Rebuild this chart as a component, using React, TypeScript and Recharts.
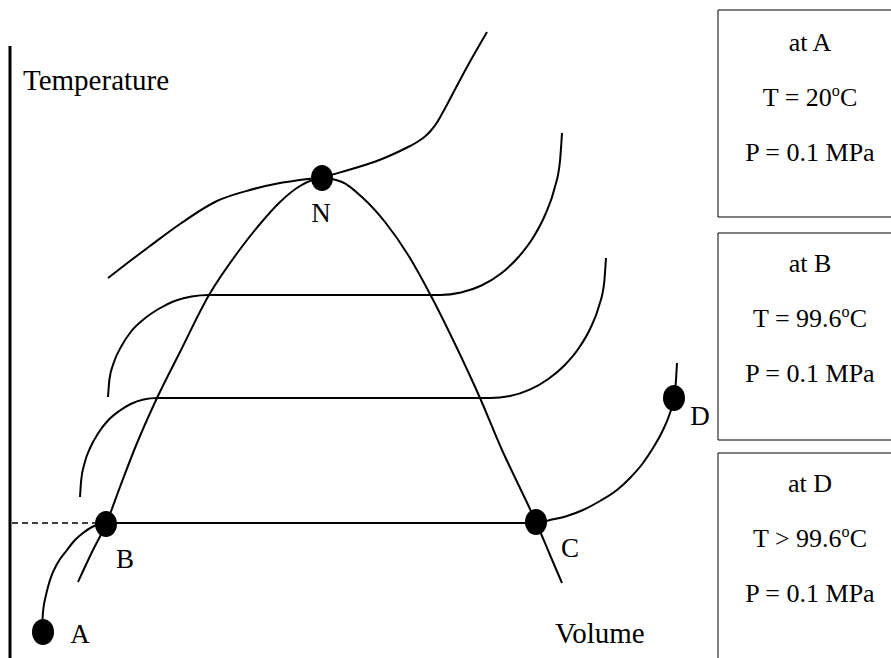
import { ComposedChart, XAxis, YAxis, Line, Scatter, ReferenceLine, ReferenceArea } from "recharts";

// saturation dome (liquid side -> critical point N -> vapour side)
const dome = [
  { x: 78, y: 582 }, { x: 92, y: 552 }, { x: 106, y: 524 }, { x: 120, y: 487 }, { x: 135, y: 448 },
  { x: 157, y: 398 }, { x: 180, y: 352 }, { x: 209, y: 295 }, { x: 238, y: 252 }, { x: 260, y: 224 },
  { x: 280, y: 202 }, { x: 300, y: 186 }, { x: 322, y: 178 }, { x: 342, y: 182 }, { x: 363, y: 198 },
  { x: 385, y: 222 }, { x: 410, y: 258 }, { x: 430, y: 294 }, { x: 455, y: 344 }, { x: 480, y: 398 },
  { x: 502, y: 450 }, { x: 520, y: 488 }, { x: 536, y: 522 }, { x: 550, y: 555 }, { x: 562, y: 583 },
];

// critical isotherm through N
const criticalIsotherm = [
  { x: 108, y: 278 }, { x: 130, y: 261 }, { x: 150, y: 246 }, { x: 180, y: 224 }, { x: 217, y: 201 },
  { x: 250, y: 190 }, { x: 280, y: 183 }, { x: 300, y: 180 }, { x: 322, y: 177 }, { x: 345, y: 171 },
  { x: 365, y: 165 }, { x: 382, y: 159 }, { x: 400, y: 151 }, { x: 410, y: 146 }, { x: 418, y: 141.5 },
  { x: 425, y: 136.5 }, { x: 431, y: 130.5 }, { x: 437, y: 122.5 }, { x: 443, y: 112 }, { x: 450, y: 99 },
  { x: 467, y: 67 }, { x: 487, y: 32 },
];

const upperIsotherm = [
  { x: 108, y: 397 }, { x: 109.5, y: 379 }, { x: 114, y: 362 }, { x: 121.5, y: 346 }, { x: 131.5, y: 331 },
  { x: 144, y: 319 }, { x: 158.5, y: 309 }, { x: 174.5, y: 301 }, { x: 191.5, y: 296.5 }, { x: 209, y: 295 },
  { x: 440, y: 295 }, { x: 461, y: 292.5 }, { x: 481.5, y: 285.5 }, { x: 501, y: 273.5 }, { x: 518.5, y: 257 },
  { x: 533.5, y: 237 }, { x: 545.5, y: 214 }, { x: 554.5, y: 188.5 }, { x: 560, y: 161 }, { x: 562, y: 133 },
];

const lowerIsotherm = [
  { x: 80, y: 497 }, { x: 81.2, y: 480 }, { x: 84.6, y: 463 }, { x: 90.3, y: 447.5 }, { x: 98, y: 433.5 },
  { x: 107.5, y: 421 }, { x: 118.5, y: 411.5 }, { x: 130.7, y: 404 }, { x: 143.6, y: 399.5 }, { x: 157, y: 398 },
  { x: 490, y: 398 }, { x: 510, y: 396 }, { x: 529.7, y: 389.6 }, { x: 548, y: 379.2 }, { x: 564.6, y: 365.2 },
  { x: 578.9, y: 348 }, { x: 590.5, y: 328 }, { x: 599, y: 306 }, { x: 604.2, y: 282.3 }, { x: 606, y: 258 },
];

// A -> B (compressed liquid)
const liquidPath = [
  { x: 42, y: 632 }, { x: 43, y: 612 }, { x: 46, y: 595 }, { x: 50, y: 580 }, { x: 57, y: 564 },
  { x: 67, y: 550 }, { x: 75, y: 540 }, { x: 83, y: 533 }, { x: 92, y: 527 }, { x: 100, y: 524 },
  { x: 106, y: 523 },
];

// B -> C -> D at 0.1 MPa
const boilingPath = [
  { x: 106, y: 523 }, { x: 536, y: 523 }, { x: 550, y: 520 }, { x: 567, y: 516 }, { x: 583, y: 510 },
  { x: 600, y: 501 }, { x: 617, y: 490 }, { x: 630, y: 478 }, { x: 643, y: 463 }, { x: 653, y: 448 },
  { x: 663, y: 430 }, { x: 670, y: 413 }, { x: 674, y: 398 }, { x: 676, y: 380 }, { x: 677, y: 363 },
];

const statePoints = [
  { x: 43, y: 632, name: "A" },
  { x: 106, y: 524, name: "B" },
  { x: 536, y: 522, name: "C" },
  { x: 674, y: 398, name: "D" },
  { x: 322, y: 178, name: "N" },
];

const pointLabels = [
  { x: 80, y: 643, text: "A" },
  { x: 125, y: 568, text: "B" },
  { x: 570, y: 557, text: "C" },
  { x: 700, y: 425, text: "D" },
  { x: 321, y: 222, text: "N" },
];

const axisLabels = [
  { x: 23, y: 90, text: "Temperature" },
  { x: 555, y: 643, text: "Volume" },
];

const noteLines = [
  { x: 810, y: 51, text: "at A" },
  { x: 810, y: 106, text: "T = 20°C" },
  { x: 810, y: 161, text: "P = 0.1 MPa" },
  { x: 810, y: 272, text: "at B" },
  { x: 810, y: 327, text: "T = 99.6°C" },
  { x: 810, y: 382, text: "P = 0.1 MPa" },
  { x: 810, y: 492, text: "at D" },
  { x: 810, y: 547, text: "T > 99.6°C" },
  { x: 810, y: 602, text: "P = 0.1 MPa" },
];

const FONT = '"Liberation Serif", "Times New Roman", serif';

function StateDot(props: any) {
  const { cx, cy } = props;
  return <ellipse cx={cx} cy={cy} rx={11} ry={13} fill="#000" />;
}

function makeText(size: number, anchor: "start" | "middle") {
  return function TextMark(props: any) {
    const { cx, cy, payload } = props;
    const parts = String(payload.text).split("°");
    return (
      <text x={cx} y={cy} fontFamily={FONT} fontSize={size} fill="#000" textAnchor={anchor}>
        {parts.length > 1 ? (
          <>
            <tspan>{parts[0]}</tspan>
            <tspan dy={-10} fontSize={size * 0.62}>o</tspan>
            <tspan dy={10}>{parts[1]}</tspan>
          </>
        ) : (
          payload.text
        )}
      </text>
    );
  };
}

const curves = [dome, criticalIsotherm, upperIsotherm, lowerIsotherm, liquidPath, boilingPath];

export default function App() {
  return (
    <div style={{ position: "absolute", left: 0, top: 0, width: 891, height: 658, background: "#fff", overflow: "hidden" }}>
      <ComposedChart width={891} height={658} margin={{ top: 0, right: 0, bottom: 0, left: 0 }}>
        <XAxis type="number" dataKey="x" domain={[0, 891]} hide allowDataOverflow />
        <YAxis type="number" dataKey="y" domain={[0, 658]} reversed hide allowDataOverflow />

        <ReferenceLine segment={[{ x: 10, y: 46 }, { x: 10, y: 658 }]} stroke="#000" strokeWidth={3} ifOverflow="visible" />
        <ReferenceLine segment={[{ x: 12, y: 523 }, { x: 96, y: 523 }]} stroke="#000" strokeWidth={1.5} strokeDasharray="6 4" ifOverflow="visible" />

        <ReferenceArea x1={718} x2={905} y1={10} y2={217} fill="none" stroke="#000" strokeWidth={1} ifOverflow="visible" />
        <ReferenceArea x1={718} x2={905} y1={233} y2={440} fill="none" stroke="#000" strokeWidth={1} ifOverflow="visible" />
        <ReferenceArea x1={718} x2={905} y1={453} y2={670} fill="none" stroke="#000" strokeWidth={1} ifOverflow="visible" />

        {curves.map((c, i) => (
          <Line
            key={i}
            data={c}
            dataKey="y"
            type="monotone"
            stroke="#000"
            strokeWidth={2}
            dot={false}
            activeDot={false}
            isAnimationActive={false}
          />
        ))}

        <Scatter data={statePoints} dataKey="y" shape={StateDot} isAnimationActive={false} />
        <Scatter data={pointLabels} dataKey="y" shape={makeText(27, "middle")} isAnimationActive={false} />
        <Scatter data={axisLabels} dataKey="y" shape={makeText(29, "start")} isAnimationActive={false} />
        <Scatter data={noteLines} dataKey="y" shape={makeText(26, "middle")} isAnimationActive={false} />
      </ComposedChart>
    </div>
  );
}
